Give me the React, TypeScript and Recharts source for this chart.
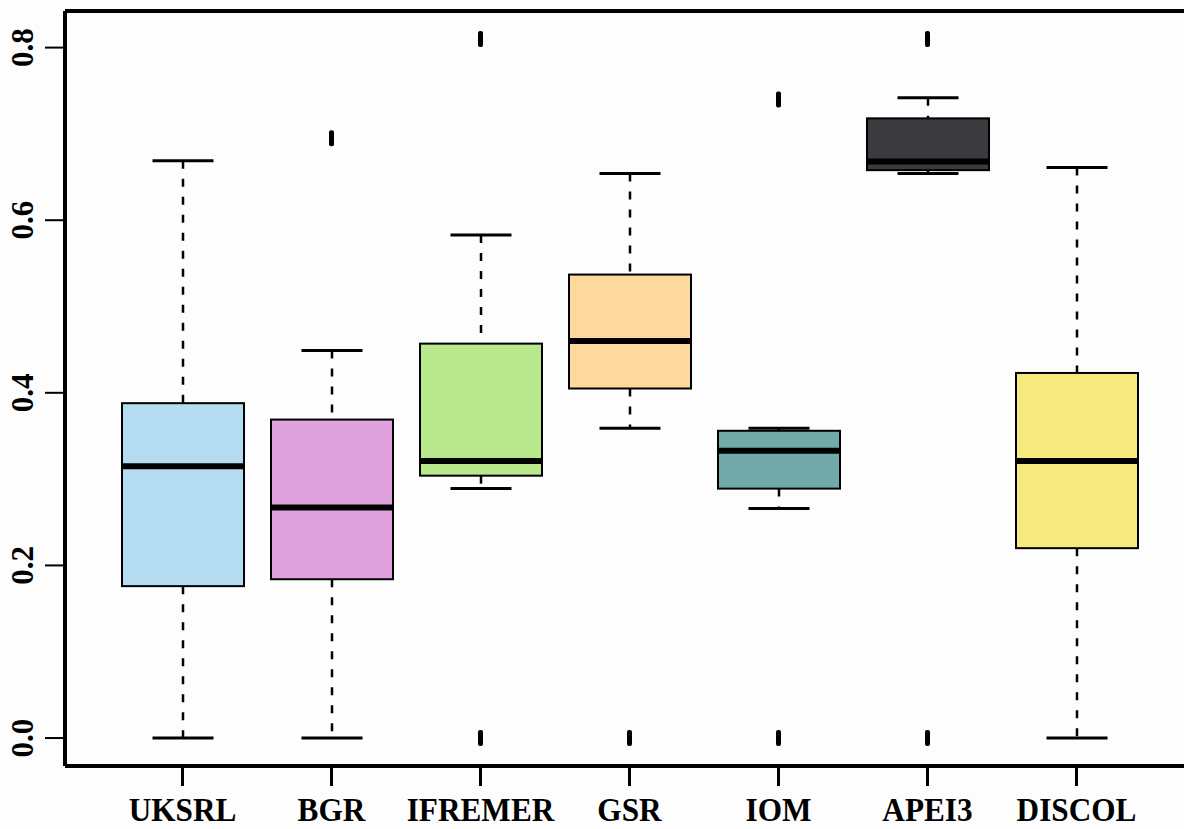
import React from 'react';
import { ComposedChart, Bar, Scatter, XAxis, YAxis, ReferenceLine } from 'recharts';

// box statistics
const sites = ['UKSRL', 'BGR', 'IFREMER', 'GSR', 'IOM', 'APEI3', 'DISCOL'];
const whiskerLow = [0, 0, 0.289, 0.359, 0.266, 0.654, 0];
const quartile1 = [0.176, 0.184, 0.304, 0.405, 0.289, 0.658, 0.22];
const medians = [0.315, 0.267, 0.321, 0.46, 0.333, 0.668, 0.321];
const quartile3 = [0.388, 0.369, 0.457, 0.537, 0.356, 0.718, 0.423];
const whiskerHigh = [0.669, 0.449, 0.583, 0.654, 0.359, 0.742, 0.661];
const outlierHigh: (number | null)[] = [null, 0.695, 0.81, null, 0.74, 0.81, null];
const outlierLow: (number | null)[] = [null, null, 0, 0, 0, 0, null];
const yTicks = [0, 0.2, 0.4, 0.6, 0.8];

const boxColors = ['#b3dcf0', '#e0a2de', '#b9e88c', '#fed99e', '#72a9a9', '#3b3a3e', '#f6ea7f'];

const Y_MIN = -0.0324;
const Y_MAX = 0.8424;
const FONT = '"Liberation Serif", "Times New Roman", serif';

// stacked segments: base -> lower whisker -> lower box -> upper box -> upper whisker
const data = sites.map((site, i) => ({
  site,
  color: boxColors[i],
  base: whiskerLow[i],
  lowWhisker: quartile1[i] - whiskerLow[i],
  lowBox: medians[i] - quartile1[i],
  highBox: quartile3[i] - medians[i],
  highWhisker: whiskerHigh[i] - quartile3[i],
  outHi: outlierHigh[i],
  outLo: outlierLow[i],
}));

const LowWhisker = (props: any) => {
  const { x, y, width, height } = props;
  const cx = x + width / 2;
  return (
    <g>
      <line x1={cx} x2={cx} y1={y} y2={y + height} stroke="#000" strokeWidth={2.5} strokeDasharray="8 10" />
      <line x1={cx - width / 4} x2={cx + width / 4} y1={y + height} y2={y + height} stroke="#000" strokeWidth={3} />
    </g>
  );
};

const HighWhisker = (props: any) => {
  const { x, y, width, height } = props;
  const cx = x + width / 2;
  return (
    <g>
      <line x1={cx} x2={cx} y1={y} y2={y + height} stroke="#000" strokeWidth={2.5} strokeDasharray="8 10" />
      <line x1={cx - width / 4} x2={cx + width / 4} y1={y} y2={y} stroke="#000" strokeWidth={3} />
    </g>
  );
};

const BoxPart = (props: any) => {
  const { x, y, width, height, payload } = props;
  return <rect x={x} y={y} width={width} height={height} fill={payload.color} stroke="#000" strokeWidth={2} />;
};

const UpperBox = (props: any) => {
  const { x, y, width, height, payload } = props;
  return (
    <g>
      <rect x={x} y={y} width={width} height={height} fill={payload.color} stroke="#000" strokeWidth={2} />
      <line x1={x} x2={x + width} y1={y + height} y2={y + height} stroke="#000" strokeWidth={6} />
    </g>
  );
};

const outlierShape = (key: 'outHi' | 'outLo') => (props: any) => {
  const { cx, cy, payload } = props;
  if (payload == null || payload[key] == null || cx == null || cy == null) return <g />;
  return <rect x={cx - 2.5} y={cy - 8} width={5} height={16} rx={2} fill="#000" />;
};

const XTick = (props: any) => {
  const { x, y, payload } = props;
  return (
    <text
      x={0}
      y={0}
      transform={`translate(${x},${y + 33}) scale(0.92,1)`}
      textAnchor="middle"
      fontFamily={FONT}
      fontWeight="bold"
      fontSize={34}
      fill="#000"
    >
      {payload.value}
    </text>
  );
};

const YTick = (props: any) => {
  const { x, y, payload } = props;
  return (
    <text
      x={0}
      y={0}
      transform={`translate(${x - 10},${y}) rotate(-90)`}
      textAnchor="middle"
      fontFamily={FONT}
      fontWeight="bold"
      fontSize={31}
      fill="#000"
    >
      {Number(payload.value).toFixed(1)}
    </text>
  );
};

export default function App() {
  return (
    <div style={{ position: 'absolute', left: 0, top: 0, width: 1184, height: 829, overflow: 'hidden', background: '#fdfdfd' }}>
      <ComposedChart
        width={1210}
        height={829}
        data={data}
        margin={{ top: 11, right: 16, bottom: 0, left: 0 }}
      >
        <XAxis
          dataKey="site"
          type="category"
          allowDuplicatedCategory={false}
          padding={{ left: 43, right: 43 }}
          height={63}
          tickSize={20}
          tickLine={{ stroke: '#000', strokeWidth: 3 }}
          axisLine={{ stroke: '#000', strokeWidth: 4 }}
          tick={<XTick />}
          interval={0}
        />
        <YAxis
          type="number"
          domain={[Y_MIN, Y_MAX]}
          allowDataOverflow
          ticks={yTicks}
          width={65}
          tickSize={20}
          tickLine={{ stroke: '#000', strokeWidth: 2 }}
          axisLine={{ stroke: '#000', strokeWidth: 4 }}
          tick={<YTick />}
        />
        <ReferenceLine y={Y_MAX} stroke="#000" strokeWidth={4} ifOverflow="visible" />
        <Bar dataKey="base" stackId="box" barSize={122} fill="none" isAnimationActive={false} />
        <Bar dataKey="lowWhisker" stackId="box" barSize={122} shape={<LowWhisker />} isAnimationActive={false} />
        <Bar dataKey="lowBox" stackId="box" barSize={122} shape={<BoxPart />} isAnimationActive={false} />
        <Bar dataKey="highBox" stackId="box" barSize={122} shape={<UpperBox />} isAnimationActive={false} />
        <Bar dataKey="highWhisker" stackId="box" barSize={122} shape={<HighWhisker />} isAnimationActive={false} />
        <Scatter dataKey="outHi" shape={outlierShape('outHi')} isAnimationActive={false} />
        <Scatter dataKey="outLo" shape={outlierShape('outLo')} isAnimationActive={false} />
      </ComposedChart>
    </div>
  );
}
